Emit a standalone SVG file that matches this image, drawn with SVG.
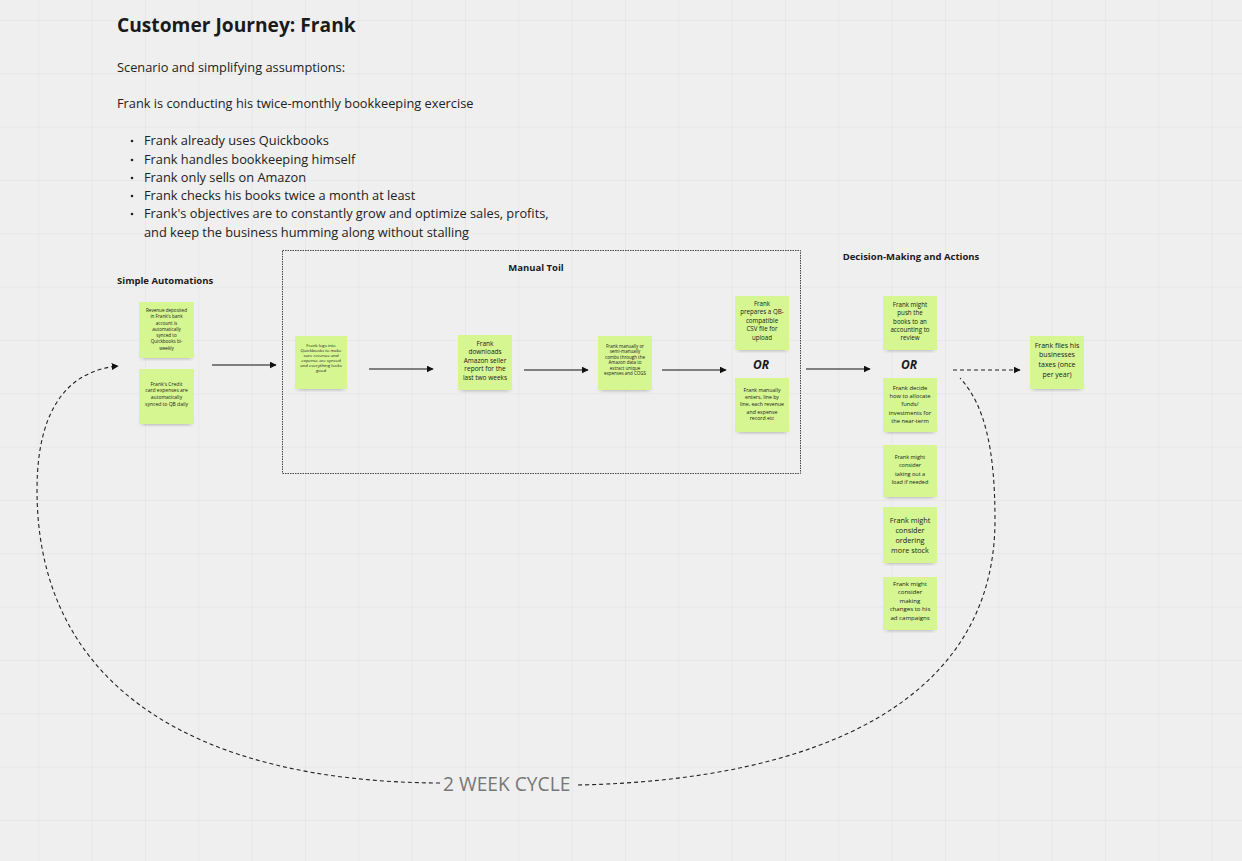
<svg xmlns="http://www.w3.org/2000/svg" width="1242" height="861" viewBox="0 0 1242 861">
<defs>
<pattern id="grid" patternUnits="userSpaceOnUse" x="38.33" y="20" width="53.33" height="53.33">
<path d="M0 0 H53.33 M0 0 V53.33" fill="none" stroke="#e0e0e0" stroke-width="1"/>
</pattern>
<filter id="blur" x="-20%" y="-50%" width="140%" height="200%"><feGaussianBlur stdDeviation="2"/></filter>
<marker id="ah" viewBox="0 0 10 10" refX="9" refY="5" markerWidth="7" markerHeight="7" markerUnits="userSpaceOnUse" orient="auto"><path d="M0 0 L10 5 L0 10 z" fill="#111"/></marker>
<style>
text{font-family:"Open Sans","Noto Sans","Liberation Sans",sans-serif;fill:#1a1a1a}
.title{font-size:19.2px;font-weight:700}
.body{font-size:12.8px;fill:#222}
.lbl{font-size:9.5px;font-weight:700}
.or{font-size:12px;font-weight:700;font-style:italic;text-anchor:middle}
.st text{text-anchor:middle}
.note{fill:#d5f691}
.shadow{fill:#555;opacity:0.55;filter:url(#blur)}
.conn{fill:none;stroke:#111;stroke-width:1.2}
.dash{fill:none;stroke:#222;stroke-width:1.1;stroke-dasharray:4 3}
.cycle{font-size:19.2px;fill:#777}
</style>
</defs>
<rect width="1242" height="861" fill="#efefef"/>
<rect width="1242" height="861" fill="url(#grid)"/>

<g id="header">
<text class="title" x="117" y="32">Customer Journey: Frank</text>
<text class="body" x="117" y="72">Scenario and simplifying assumptions:</text>
<text class="body" x="117" y="108">Frank is conducting his twice-monthly bookkeeping exercise</text>
<g class="body">
<circle cx="132" cy="141" r="1.3" fill="#222"/><text class="body" x="144" y="145">Frank already uses Quickbooks</text>
<circle cx="132" cy="160" r="1.3" fill="#222"/><text class="body" x="144" y="164">Frank handles bookkeeping himself</text>
<circle cx="132" cy="178" r="1.3" fill="#222"/><text class="body" x="144" y="182">Frank only sells on Amazon</text>
<circle cx="132" cy="196" r="1.3" fill="#222"/><text class="body" x="144" y="200">Frank checks his books twice a month at least</text>
<circle cx="132" cy="214" r="1.3" fill="#222"/><text class="body" x="144" y="218">Frank's objectives are to constantly grow and optimize sales, profits,</text>
<text class="body" x="144" y="237">and keep the business humming along without stalling</text>
</g>
</g>

<g id="frame-manual-toil">
<rect x="282.5" y="250.5" width="518" height="223" fill="none" stroke="#444" stroke-width="1" stroke-dasharray="1.5 1"/>
<text class="lbl" x="536" y="271" text-anchor="middle">Manual Toil</text>
</g>
<g id="label-simple"><text class="lbl" x="117" y="284">Simple Automations</text></g>
<g id="label-decision"><text class="lbl" x="911" y="260" text-anchor="middle">Decision-Making and Actions</text></g>

<g id="connectors">
<line class="conn" x1="212" y1="365" x2="276" y2="365" marker-end="url(#ah)"/>
<line class="conn" x1="369" y1="369" x2="433" y2="369" marker-end="url(#ah)"/>
<line class="conn" x1="524" y1="370" x2="588" y2="370" marker-end="url(#ah)"/>
<line class="conn" x1="662" y1="370" x2="726" y2="370" marker-end="url(#ah)"/>
<line class="conn" x1="806" y1="369" x2="870" y2="369" marker-end="url(#ah)"/>
<line class="dash" x1="953" y1="370" x2="1020" y2="370" marker-end="url(#ah)"/>
<path class="dash" d="M440 783 C 200 782 37 690 37 490 C 37 400 75 370 118 366" marker-end="url(#ah)"/>
<path class="dash" d="M578 785 C 820 780 995 700 995 520 C 995 450 985 405 960 378"/>
</g>
<g id="cycle-label"><text class="cycle" x="443" y="791">2 WEEK CYCLE</text></g>

<g id="n-revenue" class="st">
<rect class="shadow" x="142" y="352" width="49" height="6"/>
<rect class="note" x="139" y="302" width="55" height="56"/>
<g font-size="4.6"><text x="166.5" y="312">Revenue deposited</text><text x="166.5" y="318.3">in Frank's bank</text><text x="166.5" y="324.5">account is</text><text x="166.5" y="330.7">automatically</text><text x="166.5" y="337">synced to</text><text x="166.5" y="343.2">Quickbooks bi-</text><text x="166.5" y="349.5">weekly</text></g>
</g>
<g id="n-credit" class="st">
<rect class="shadow" x="142" y="418" width="49" height="6"/>
<rect class="note" x="139" y="369" width="55" height="55"/>
<g font-size="5"><text x="166.5" y="385.5">Frank's Credit</text><text x="166.5" y="392.2">card expenses are</text><text x="166.5" y="399">automatically</text><text x="166.5" y="405.7">synced to QB daily</text></g>
</g>
<g id="n-logs" class="st">
<rect class="shadow" x="298" y="383" width="46" height="6"/>
<rect class="note" x="295" y="336" width="52" height="53"/>
<g font-size="4.3"><text x="321" y="346.5">Frank logs into</text><text x="321" y="351.5">Quickbooks to make</text><text x="321" y="356.5">sure revenue and</text><text x="321" y="361.5">expense are synced</text><text x="321" y="366.5">and everything looks</text><text x="321" y="371.5">good</text></g>
</g>
<g id="n-downloads" class="st">
<rect class="shadow" x="461" y="384" width="48" height="6"/>
<rect class="note" x="458" y="335" width="54" height="55"/>
<g font-size="6.5"><text x="485" y="345.5">Frank</text><text x="485" y="354">downloads</text><text x="485" y="362.5">Amazon seller</text><text x="485" y="371">report for the</text><text x="485" y="379.5">last two weeks</text></g>
</g>
<g id="n-combs" class="st">
<rect class="shadow" x="601" y="384" width="48" height="6"/>
<rect class="note" x="598" y="336" width="54" height="54"/>
<g font-size="4.5"><text x="625" y="347.5">Frank manually or</text><text x="625" y="353">semi-manually</text><text x="625" y="358.5">combs through the</text><text x="625" y="364">Amazon data to</text><text x="625" y="369.5">extract unique</text><text x="625" y="375">expenses and COGS</text></g>
</g>
<g id="n-csv" class="st">
<rect class="shadow" x="738" y="344" width="48" height="6"/>
<rect class="note" x="735" y="296" width="54" height="54"/>
<g font-size="6.2"><text x="762" y="305.5">Frank</text><text x="762" y="314">prepares a QB-</text><text x="762" y="322.5">compatible</text><text x="762" y="331">CSV file for</text><text x="762" y="339.5">upload</text></g>
</g>
<g id="or-1"><text class="or" x="761" y="369">OR</text></g>
<g id="n-enters" class="st">
<rect class="shadow" x="738" y="426" width="48" height="6"/>
<rect class="note" x="735" y="378" width="54" height="54"/>
<g font-size="5.2"><text x="762" y="392">Frank manually</text><text x="762" y="399">enters, line by</text><text x="762" y="406.2">line, each revenue</text><text x="762" y="413.5">and expense</text><text x="762" y="420">record etc</text></g>
</g>
<g id="n-push" class="st">
<rect class="shadow" x="886" y="344" width="48" height="6"/>
<rect class="note" x="883" y="296" width="54" height="54"/>
<g font-size="6.2"><text x="910" y="307">Frank might</text><text x="910" y="315.3">push the</text><text x="910" y="323.6">books to an</text><text x="910" y="332">accounting to</text><text x="910" y="340.3">review</text></g>
</g>
<g id="or-2"><text class="or" x="909" y="369">OR</text></g>
<g id="n-allocate" class="st">
<rect class="shadow" x="886" y="426" width="48" height="6"/>
<rect class="note" x="883" y="378" width="54" height="54"/>
<g font-size="5.8"><text x="910" y="390">Frank decide</text><text x="910" y="398.2">how to allocate</text><text x="910" y="406.4">funds/</text><text x="910" y="414.6">investments for</text><text x="910" y="422.8">the near-term</text></g>
</g>
<g id="n-loan" class="st">
<rect class="shadow" x="886" y="491" width="48" height="6"/>
<rect class="note" x="883" y="445" width="54" height="52"/>
<g font-size="5.5"><text x="910" y="459">Frank might</text><text x="910" y="467.3">consider</text><text x="910" y="475.6">taking out a</text><text x="910" y="484">load if needed</text></g>
</g>
<g id="n-stock" class="st">
<rect class="shadow" x="886" y="557" width="48" height="6"/>
<rect class="note" x="883" y="507" width="54" height="56"/>
<g font-size="7.3"><text x="910" y="522.5">Frank might</text><text x="910" y="532.8">consider</text><text x="910" y="543.1">ordering</text><text x="910" y="553.4">more stock</text></g>
</g>
<g id="n-ads" class="st">
<rect class="shadow" x="886" y="624" width="48" height="6"/>
<rect class="note" x="883" y="577" width="54" height="53"/>
<g font-size="6.1"><text x="910" y="585.5">Frank might</text><text x="910" y="594">consider</text><text x="910" y="602.5">making</text><text x="910" y="611">changes to his</text><text x="910" y="619.5">ad campaigns</text></g>
</g>
<g id="n-taxes" class="st">
<rect class="shadow" x="1033" y="383" width="48" height="6"/>
<rect class="note" x="1030" y="336" width="54" height="53"/>
<g font-size="7"><text x="1057" y="347.5">Frank files his</text><text x="1057" y="357.2">businesses</text><text x="1057" y="366.9">taxes (once</text><text x="1057" y="376.6">per year)</text></g>
</g>
</svg>
